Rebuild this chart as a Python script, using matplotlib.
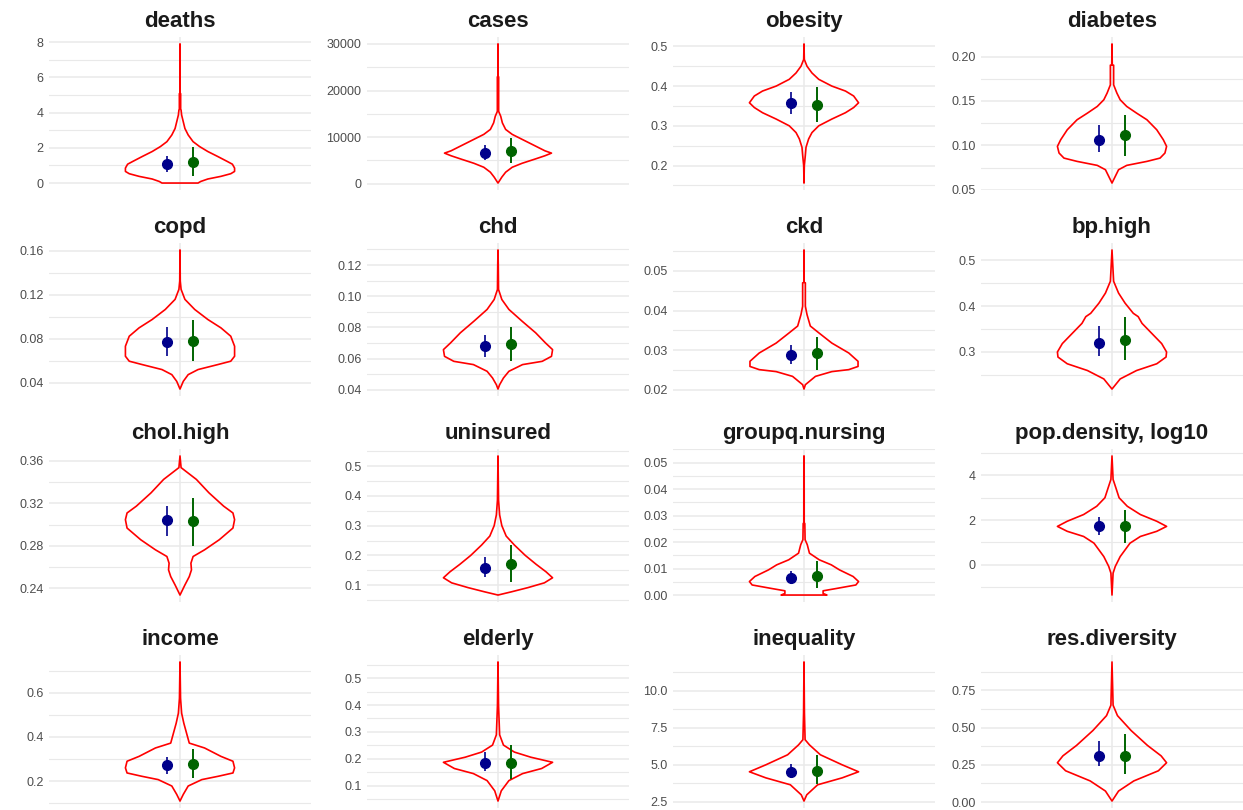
import matplotlib
matplotlib.use("Agg")
import matplotlib.pyplot as plt
import numpy as np

# ---------------- data ----------------
panels = ["deaths", "cases", "obesity", "diabetes",
          "copd", "chd", "ckd", "bp.high",
          "chol.high", "uninsured", "groupq.nursing", "pop.density, log10",
          "income", "elderly", "inequality", "res.diversity"]

# violin outlines: y value and relative half-width (0..1)
deaths_y = [0.0, 0.09, 0.23, 0.38, 0.53, 0.66, 0.85, 1.07, 1.22, 1.51, 1.79, 2.07, 2.35, 2.73, 3.1, 3.48, 3.86, 4.14, 4.2, 5.08, 5.1, 7.9]
deaths_w = [0.33, 0.38, 0.51, 0.75, 0.93, 1.0, 1.0, 0.96, 0.87, 0.69, 0.51, 0.36, 0.24, 0.15, 0.09, 0.06, 0.03, 0.02, 0.012, 0.012, 0.003, 0.003]

cases_y = [141, 494, 1410, 2470, 3530, 4377, 5295, 6000, 6565, 7060, 8120, 9530, 10590, 11650, 13060, 14470, 15530, 15550, 22940, 22960, 30000]
cases_w = [0.0, 0.02, 0.07, 0.14, 0.26, 0.44, 0.68, 0.86, 0.98, 0.86, 0.68, 0.44, 0.26, 0.14, 0.08, 0.05, 0.012, 0.012, 0.012, 0.003, 0.003]

obesity_y = [0.156, 0.2, 0.225, 0.246, 0.267, 0.283, 0.3, 0.317, 0.333, 0.346, 0.358, 0.375, 0.3875, 0.4, 0.417, 0.433, 0.45, 0.467, 0.506]
obesity_w = [0.0, 0.006, 0.024, 0.037, 0.085, 0.146, 0.27, 0.51, 0.76, 0.91, 1.0, 0.91, 0.76, 0.51, 0.27, 0.146, 0.055, 0.006, 0.0]

diabetes_y = [0.0575, 0.065, 0.0725, 0.0774, 0.0819, 0.0856, 0.0913, 0.0988, 0.1063, 0.1175, 0.1288, 0.1363, 0.1438, 0.1513, 0.1588, 0.1681, 0.1903, 0.1906, 0.2142]
diabetes_w = [0.0, 0.06, 0.12, 0.27, 0.64, 0.88, 0.97, 1.0, 0.94, 0.82, 0.64, 0.45, 0.27, 0.15, 0.09, 0.03, 0.03, 0.005, 0.0]

copd_y = [0.0345, 0.0415, 0.0476, 0.0522, 0.0567, 0.0598, 0.0643, 0.0734, 0.0825, 0.0901, 0.0977, 0.1068, 0.116, 0.1251, 0.1327, 0.1609]
copd_w = [0.0, 0.06, 0.15, 0.33, 0.69, 0.93, 1.0, 1.0, 0.93, 0.75, 0.51, 0.27, 0.09, 0.02, 0.005, 0.0]

chd_y = [0.0404, 0.0432, 0.0475, 0.0518, 0.0561, 0.0582, 0.0614, 0.0657, 0.070, 0.0765, 0.084, 0.0915, 0.0979, 0.1022, 0.1043, 0.1204, 0.1297]
chd_w = [0.0, 0.03, 0.1, 0.2, 0.45, 0.81, 0.98, 1.0, 0.87, 0.69, 0.44, 0.2, 0.07, 0.03, 0.01, 0.005, 0.0]

ckd_y = [0.0202, 0.0213, 0.0234, 0.0246, 0.0251, 0.0259, 0.0272, 0.0293, 0.0318, 0.0344, 0.0361, 0.039, 0.0411, 0.047, 0.0471, 0.0553]
ckd_w = [0.0, 0.025, 0.21, 0.51, 0.82, 0.99, 0.99, 0.82, 0.51, 0.27, 0.116, 0.055, 0.025, 0.025, 0.003, 0.0]

bphigh_y = [0.2194, 0.2414, 0.2597, 0.2744, 0.289, 0.300, 0.3183, 0.3403, 0.3623, 0.3769, 0.3842, 0.4062, 0.4282, 0.4538, 0.4758, 0.522]
bphigh_w = [0.0, 0.15, 0.45, 0.82, 0.99, 1.0, 0.91, 0.73, 0.55, 0.48, 0.39, 0.24, 0.12, 0.03, 0.02, 0.0]

cholhigh_y = [0.2337, 0.2432, 0.2511, 0.2574, 0.2637, 0.270, 0.2763, 0.2858, 0.2968, 0.3047, 0.311, 0.3174, 0.330, 0.3426, 0.3537, 0.3647]
cholhigh_w = [0.0, 0.09, 0.17, 0.21, 0.2, 0.24, 0.45, 0.72, 0.97, 1.0, 0.97, 0.8, 0.53, 0.3, 0.02, 0.0]

uninsured_y = [0.067, 0.078, 0.092, 0.108, 0.125, 0.145, 0.17, 0.2, 0.235, 0.265, 0.3, 0.336, 0.386, 0.534]
uninsured_w = [0.0, 0.25, 0.55, 0.85, 1.0, 0.88, 0.7, 0.5, 0.3, 0.15, 0.07, 0.03, 0.01, 0.0]

nursing_y = [0.0, 0.0006, 0.0016, 0.0025, 0.0038, 0.0051, 0.0070, 0.0095, 0.0114, 0.0133, 0.0158, 0.019, 0.0209, 0.027, 0.0272, 0.0525]
nursing_w = [0.42, 0.35, 0.35, 0.6, 0.95, 1.0, 0.9, 0.65, 0.5, 0.28, 0.1, 0.06, 0.02, 0.015, 0.004, 0.003]

popdens_y = [-1.35, -0.37, -0.07, 0.37, 0.97, 1.27, 1.5, 1.72, 1.95, 2.25, 2.62, 3.0, 3.45, 3.82, 4.87]
popdens_w = [0.0, 0.02, 0.06, 0.15, 0.33, 0.52, 0.82, 1.0, 0.82, 0.52, 0.28, 0.13, 0.07, 0.02, 0.0]

income_y = [0.11, 0.14, 0.178, 0.207, 0.222, 0.237, 0.26, 0.29, 0.312, 0.35, 0.372, 0.417, 0.462, 0.507, 0.575, 0.739]
income_w = [0.0, 0.06, 0.15, 0.4, 0.7, 0.97, 1.0, 0.97, 0.75, 0.45, 0.17, 0.12, 0.07, 0.03, 0.01, 0.0]

elderly_y = [0.043, 0.081, 0.119, 0.145, 0.164, 0.187, 0.206, 0.225, 0.251, 0.289, 0.398, 0.56]
elderly_w = [0.0, 0.06, 0.2, 0.45, 0.8, 1.0, 0.6, 0.3, 0.1, 0.03, 0.01, 0.0]

inequality_y = [2.55, 2.97, 3.65, 4.12, 4.53, 5.0, 5.68, 6.35, 6.7, 8.5, 11.96]
inequality_w = [0.0, 0.05, 0.25, 0.7, 1.0, 0.7, 0.3, 0.1, 0.02, 0.008, 0.0]

resdiv_y = [0.007, 0.074, 0.142, 0.21, 0.264, 0.31, 0.38, 0.48, 0.58, 0.65, 0.94]
resdiv_w = [0.0, 0.12, 0.4, 0.85, 1.0, 0.9, 0.65, 0.35, 0.1, 0.02, 0.0]

profiles_y = [deaths_y, cases_y, obesity_y, diabetes_y, copd_y, chd_y, ckd_y, bphigh_y,
              cholhigh_y, uninsured_y, nursing_y, popdens_y, income_y, elderly_y, inequality_y, resdiv_y]
profiles_w = [deaths_w, cases_w, obesity_w, diabetes_w, copd_w, chd_w, ckd_w, bphigh_w,
              cholhigh_w, uninsured_w, nursing_w, popdens_w, income_w, elderly_w, inequality_w, resdiv_w]

# point estimates and intervals (navy = first group, green = second group)
navy_est = [1.07, 6565, 0.357, 0.1063, 0.0774, 0.0679, 0.0287, 0.3198, 0.3047, 0.157, 0.0063, 1.72, 0.272, 0.185, 4.53, 0.31]
navy_lo = [0.6, 5150, 0.331, 0.0924, 0.0649, 0.061, 0.0266, 0.2905, 0.289, 0.128, 0.004, 1.35, 0.234, 0.153, 4.12, 0.24]
navy_hi = [1.56, 8330, 0.385, 0.123, 0.0907, 0.0754, 0.0312, 0.3564, 0.3174, 0.195, 0.0092, 2.14, 0.308, 0.225, 5.07, 0.41]
green_est = [1.22, 6918, 0.353, 0.1111, 0.0786, 0.0696, 0.0292, 0.3256, 0.3032, 0.17, 0.0073, 1.72, 0.279, 0.185, 4.6, 0.31]
green_lo = [0.38, 4380, 0.31, 0.0883, 0.0598, 0.0582, 0.0251, 0.2817, 0.2801, 0.111, 0.0025, 0.97, 0.215, 0.126, 3.72, 0.19]
green_hi = [2.07, 9880, 0.398, 0.1344, 0.0971, 0.0803, 0.0334, 0.3755, 0.3253, 0.235, 0.0127, 2.47, 0.345, 0.25, 5.68, 0.46]

# axis ticks
major_ticks = [
    [0, 2, 4, 6, 8],
    [0, 10000, 20000, 30000],
    [0.2, 0.3, 0.4, 0.5],
    [0.05, 0.10, 0.15, 0.20],
    [0.04, 0.08, 0.12, 0.16],
    [0.04, 0.06, 0.08, 0.10, 0.12],
    [0.02, 0.03, 0.04, 0.05],
    [0.3, 0.4, 0.5],
    [0.24, 0.28, 0.32, 0.36],
    [0.1, 0.2, 0.3, 0.4, 0.5],
    [0.00, 0.01, 0.02, 0.03, 0.04, 0.05],
    [0, 2, 4],
    [0.2, 0.4, 0.6],
    [0.1, 0.2, 0.3, 0.4, 0.5],
    [2.5, 5.0, 7.5, 10.0],
    [0.00, 0.25, 0.50, 0.75],
]
tick_labels = [
    ["0", "2", "4", "6", "8"],
    ["0", "10000", "20000", "30000"],
    ["0.2", "0.3", "0.4", "0.5"],
    ["0.05", "0.10", "0.15", "0.20"],
    ["0.04", "0.08", "0.12", "0.16"],
    ["0.04", "0.06", "0.08", "0.10", "0.12"],
    ["0.02", "0.03", "0.04", "0.05"],
    ["0.3", "0.4", "0.5"],
    ["0.24", "0.28", "0.32", "0.36"],
    ["0.1", "0.2", "0.3", "0.4", "0.5"],
    ["0.00", "0.01", "0.02", "0.03", "0.04", "0.05"],
    ["0", "2", "4"],
    ["0.2", "0.4", "0.6"],
    ["0.1", "0.2", "0.3", "0.4", "0.5"],
    ["2.5", "5.0", "7.5", "10.0"],
    ["0.00", "0.25", "0.50", "0.75"],
]

# ---------------- style ----------------
VIOLIN_HALF = 0.25
OFFSET = 0.06
GRID = "#e9e9e9"
W, H = 1243, 810
col_left = [49, 367, 673, 981]
row_top = [37, 243, 449, 655]
PW, PH = 262, 153

plt.rcParams["font.family"] = ["Liberation Sans", "DejaVu Sans"]
fig = plt.figure(figsize=(W / 100, H / 100), dpi=100)

for i, name in enumerate(panels):
    r, c = divmod(i, 4)
    ax = fig.add_axes([col_left[c] / W, (H - row_top[r] - PH) / H, PW / W, PH / H])
    for s in ax.spines.values():
        s.set_visible(False)
    ax.set_axisbelow(True)

    ys = np.asarray(profiles_y[i], dtype=float)
    ws = np.asarray(profiles_w[i], dtype=float) * VIOLIN_HALF
    xs = np.concatenate([1 + ws, (1 - ws)[::-1]])
    yy = np.concatenate([ys, ys[::-1]])
    ax.fill(xs, yy, facecolor="none", edgecolor="#ff0000", linewidth=1.2,
            joinstyle="round", zorder=2)

    ax.vlines(1 - OFFSET, navy_lo[i], navy_hi[i], color="#00008b", linewidth=1.2, zorder=3)
    ax.plot([1 - OFFSET], [navy_est[i]], "o", color="#00008b", markersize=7, zorder=4)
    ax.vlines(1 + OFFSET, green_lo[i], green_hi[i], color="#006400", linewidth=1.4, zorder=3)
    ax.plot([1 + OFFSET], [green_est[i]], "o", color="#006400", markersize=7, zorder=4)

    ax.set_xlim(0.4, 1.6)
    ax.margins(y=0.05)
    ax.autoscale_view()
    ylo, yhi = ax.get_ylim()
    ax.set_ylim(ylo, yhi)

    mt = major_ticks[i]
    step = mt[1] - mt[0]
    minors = [t + step / 2 for t in [mt[0] - step] + list(mt)]
    minors = [m for m in minors if ylo <= m <= yhi]
    ax.set_yticks(mt)
    ax.set_yticklabels(tick_labels[i])
    ax.set_yticks(minors, minor=True)
    ax.set_xticks([1])
    ax.set_xticklabels([])
    ax.tick_params(axis="both", which="both", length=0)
    ax.tick_params(axis="y", labelsize=9, labelcolor="#4d4d4d", pad=4)
    ax.grid(axis="y", which="major", color=GRID, linewidth=1.1)
    ax.grid(axis="y", which="minor", color=GRID, linewidth=0.8)
    ax.grid(axis="x", which="major", color=GRID, linewidth=1.1)
    ax.set_title(name, fontsize=16, fontweight="bold", color="#1a1a1a", pad=7)

fig.savefig("out.png", dpi=100)
